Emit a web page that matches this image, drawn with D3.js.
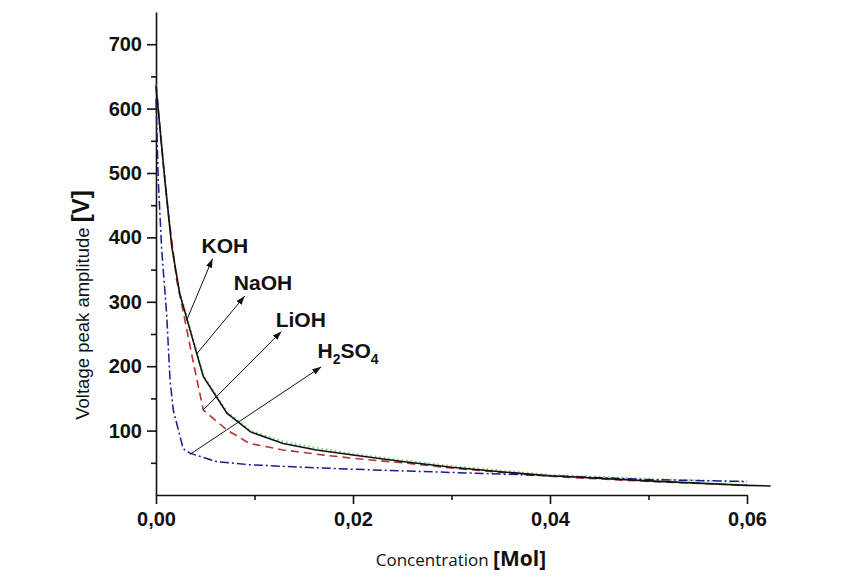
<!DOCTYPE html>
<html lang="en">
<head>
    <meta charset="UTF-8">
    <title>Voltage peak amplitude vs concentration</title>
    <style>
        body { margin: 0; background: #fff; }
        .tick text { font: bold 20px Arial, "Liberation Sans", sans-serif; fill: #111; }
        .domain, .tick line { stroke: #111; stroke-width: 1.6; }
        .note { font: bold 21px Arial, "Liberation Sans", sans-serif; fill: #111; }
    </style>
</head>
<body>
<svg id="chart" width="867" height="583"></svg>

<script src="https://cdnjs.cloudflare.com/ajax/libs/d3/7.8.5/d3.min.js"></script>
<script>
    // values (concentration in Mol, amplitude in V)
    const kohConc  = [0, 0.0009, 0.0016, 0.0024, 0.0048, 0.0072, 0.0096, 0.0129, 0.0163, 0.02, 0.025, 0.03, 0.035, 0.04, 0.05, 0.06, 0.0624];
    const kohVolt  = [635, 489, 386, 313, 184, 127, 98, 80, 70, 62, 52, 43, 36, 30, 22, 15, 14];

    const naohConc = [0, 0.0009, 0.0016, 0.0024, 0.0048, 0.0072, 0.0096, 0.0129, 0.0163, 0.02, 0.025, 0.03, 0.035, 0.04, 0.05, 0.06];
    const naohVolt = [635, 490, 388, 315, 186, 129, 100, 83, 73, 64, 54, 45, 38, 31, 25, 20];

    const liohConc = [0, 0.0007, 0.00125, 0.0021, 0.0028, 0.0038, 0.0048, 0.0072, 0.0095, 0.0129, 0.0165, 0.02, 0.025, 0.03, 0.035, 0.04, 0.05, 0.06];
    const liohVolt = [638, 520, 437, 334, 282, 205, 132, 101, 80, 70, 63, 57, 50, 42, 35, 29, 21, 15];

    const h2so4Conc = [0, 0.0001, 0.00023, 0.00058, 0.00108, 0.00142, 0.00175, 0.00276, 0.00344, 0.0061, 0.0095, 0.015, 0.02, 0.03, 0.04, 0.05, 0.06];
    const h2so4Volt = [615, 562, 489, 380, 282, 179, 132, 72, 65, 52, 47, 43, 40, 35, 30, 24, 21];

    const xMajor = [0, 0.02, 0.04, 0.06];
    const xMinor = [0.01, 0.03, 0.05];
    const yMajor = [100, 200, 300, 400, 500, 600, 700];
    const yMinor = [50, 150, 250, 350, 450, 550, 650];

    // arrow labels: text anchor, arrow tail (on curve) and head, in data units
    const notes = [
        { name: "KOH",   tx: 0.00463, ty: 376, x0: 0.0031,  y0: 271, x1: 0.00574, y1: 367 },
        { name: "NaOH",  tx: 0.0079,  ty: 318, x0: 0.00412, y0: 219, x1: 0.00901, y1: 309 },
        { name: "LiOH",  tx: 0.01215, ty: 261, x0: 0.00479, y0: 132, x1: 0.01273, y1: 254 },
        { name: "H2SO4", tx: 0.0164,  ty: 213, x0: 0.00344, y0: 63,  x1: 0.01678, y1: 199 }
    ];

    const svg = d3.select("#chart");

    const x = d3.scaleLinear().domain([0, 0.06]).range([156, 747]);
    const y = d3.scaleLinear().domain([0, 750]).range([495, 12]);

    const fmt = d => d3.format(".2f")(d).replace(".", ",");

    // axes
    svg.append("g")
        .attr("transform", "translate(0,495)")
        .call(d3.axisBottom(x).tickValues(xMajor).tickFormat(fmt).tickSize(9).tickSizeOuter(0).tickPadding(8));
    svg.append("g")
        .attr("transform", "translate(0,495)")
        .call(d3.axisBottom(x).tickValues(xMinor).tickFormat("").tickSize(5).tickSizeOuter(0))
        .call(g => g.selectAll("text").remove())
        .select(".domain").remove();

    svg.append("g")
        .attr("transform", "translate(156,0)")
        .call(d3.axisLeft(y).tickValues(yMajor).tickFormat(d3.format("d")).tickSize(9).tickSizeOuter(0).tickPadding(5));
    svg.append("g")
        .attr("transform", "translate(156,0)")
        .call(d3.axisLeft(y).tickValues(yMinor).tickFormat("").tickSize(5).tickSizeOuter(0))
        .call(g => g.selectAll("text").remove())
        .select(".domain").remove();

    // curves
    const series = [
        { conc: naohConc,  volt: naohVolt,  color: "#7fd07f", dash: "1.5,3",     width: 2.2 },
        { conc: liohConc,  volt: liohVolt,  color: "#b8322e", dash: "8,5",       width: 1.6 },
        { conc: h2so4Conc, volt: h2so4Volt, color: "#1c1c8c", dash: "9,3,2,3",   width: 1.5 },
        { conc: kohConc,   volt: kohVolt,   color: "#111111", dash: null,        width: 1.6 }
    ];

    const line = d3.line().x(d => x(d[0])).y(d => y(d[1]));

    svg.append("g").selectAll("path")
        .data(series)
        .join("path")
        .attr("d", s => line(d3.zip(s.conc, s.volt)))
        .attr("fill", "none")
        .attr("stroke", s => s.color)
        .attr("stroke-width", s => s.width)
        .attr("stroke-dasharray", s => s.dash);

    // arrows
    svg.append("defs").append("marker")
        .attr("id", "head")
        .attr("viewBox", "0 0 10 10")
        .attr("refX", 10).attr("refY", 5)
        .attr("markerWidth", 9).attr("markerHeight", 9)
        .attr("markerUnits", "userSpaceOnUse")
        .attr("orient", "auto")
        .append("path").attr("d", "M0,1.5L10,5L0,8.5Z").attr("fill", "#111");

    svg.append("g").selectAll("line")
        .data(notes)
        .join("line")
        .attr("x1", d => x(d.x0)).attr("y1", d => y(d.y0))
        .attr("x2", d => x(d.x1)).attr("y2", d => y(d.y1))
        .attr("stroke", "#111").attr("stroke-width", 1)
        .attr("marker-end", "url(#head)");

    const label = svg.append("g").selectAll("text")
        .data(notes)
        .join("text")
        .attr("class", "note")
        .attr("x", d => x(d.tx)).attr("y", d => y(d.ty));

    label.each(function(d) {
        const t = d3.select(this);
        // digits become subscripts
        let low = false;
        d.name.split(/(\d)/).filter(s => s).forEach(part => {
            const sub = /\d/.test(part);
            const span = t.append("tspan").text(part);
            if (sub) span.attr("font-size", 14);
            if (sub !== low) span.attr("dy", sub ? 6 : -6);
            low = sub;
        });
    });

    // axis titles
    const yTitle = svg.append("text")
        .attr("transform", "translate(89,305) rotate(-90)")
        .attr("text-anchor", "middle")
        .attr("font-family", "Arial, 'Liberation Sans', sans-serif")
        .attr("fill", "#111");
    yTitle.append("tspan").attr("font-size", 18.5).text("Voltage peak amplitude ");
    yTitle.append("tspan").attr("font-size", 24).attr("font-weight", "bold").text("[V]");

    const xTitle = svg.append("text")
        .attr("x", 461).attr("y", 566)
        .attr("text-anchor", "middle")
        .attr("font-family", "'Open Sans', sans-serif")
        .attr("fill", "#111");
    xTitle.append("tspan").attr("font-size", 17).text("Concentration ");
    xTitle.append("tspan").attr("font-size", 21).attr("font-weight", "bold").text("[Mol]");
</script>
</body>
</html>
